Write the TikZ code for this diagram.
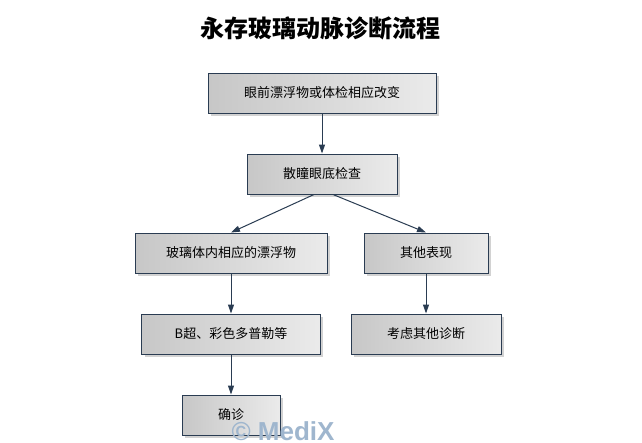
\documentclass[tikz,border=0pt]{standalone}
\usepackage{fontspec}
\setmainfont{Liberation Sans}
\newfontfamily\cjk{Noto Sans CJK SC}
\usepackage{xcolor}
\usepackage{tikz}
\usetikzlibrary{arrows.meta,positioning,shadows,calc}
\definecolor{edge}{HTML}{2A3C52}
\definecolor{markblue}{HTML}{9FB6CE}
\tikzstyle{line} = [draw=edge, line width=1pt, -{Triangle[length=9pt,width=6pt]}]
\tikzstyle{box} = [rectangle, draw=edge, line width=1pt, left color=black!22, right color=black!8, minimum height=40pt, inner xsep=36pt, font=\cjk\fontsize{13pt}{15pt}\selectfont, drop shadow={shadow xshift=3pt, shadow yshift=-3pt, opacity=0.35}]

\begin{document}
\begin{tikzpicture}[node distance=0cm]

\useasboundingbox [fill=white] (0,0) rectangle (642pt,-442pt);

\node [font=\cjk\bfseries\fontsize{24pt}{28pt}\selectfont] (title) at (320pt,-28pt) {永存玻璃动脉诊断流程};

\node [box] (1) at (322pt,-93pt) {眼前漂浮物或体检相应改变};
\node [box, below=40pt of 1] (2) {散瞳眼底检查};

\node [box, inner xsep=31pt] (3) at (231pt,-253pt) {玻璃体内相应的漂浮物};
\node [box, inner xsep=33pt, below=40pt of 3] (5) {B超、彩色多普勒等};
\node [box, below=40pt of 5] (7) {确诊};

\node [box] (4) at (426pt,-253pt) {其他表现};
\node [box, below=40pt of 4] (6) {考虑其他诊断};

\node [text=markblue, font=\bfseries\fontsize{26pt}{30pt}\selectfont, anchor=north west] (mark) at (228pt,-418pt) {© MediX};

\path [line] (1) -- (2);
\path [line] ([xshift=-8pt]2.south) -- (3.north);
\path [line] ([xshift=11pt]2.south) -- (4.north);
\path [line] (3) -- (5);
\path [line] (5) -- (7);
\path [line] (4) -- (6);

\end{tikzpicture}
\end{document}
